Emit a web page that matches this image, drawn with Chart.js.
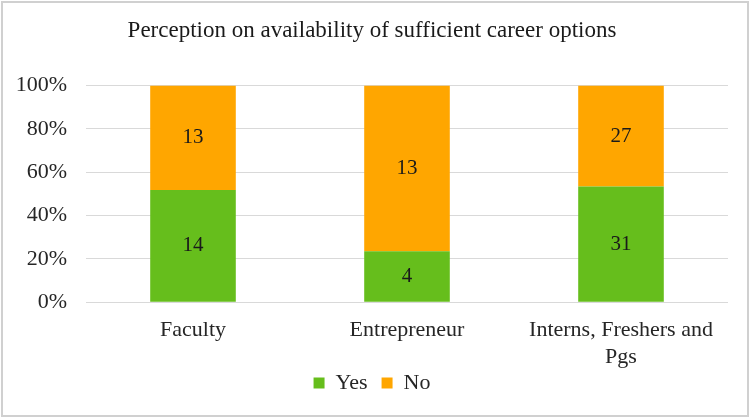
<!DOCTYPE html>
<html>
<head>
<meta charset="utf-8">
<script src="https://cdn.jsdelivr.net/npm/chart.js@4/dist/chart.umd.min.js"></script>
<style>
  html, body { margin: 0; padding: 0; background: #fff; }
  #wrap { width: 750px; height: 418px; position: relative; }
</style>
</head>
<body>
<div id="wrap"><canvas id="chart"></canvas></div>
<script>
const categories = ['Faculty', 'Entrepreneur', ['Interns, Freshers and', 'Pgs']];
const yesCounts = [14, 4, 31];
const noCounts = [13, 13, 27];
const tickLabels = ['0%', '20%', '40%', '60%', '80%', '100%'];

// share of each group, so the bars are 100% stacked
const yesPct = yesCounts.map((v, i) => v / (v + noCounts[i]) * 100);
const noPct = noCounts.map((v, i) => v / (yesCounts[i] + v) * 100);

const serif = '"Liberation Serif", "Times New Roman", serif';

const countLabels = {
    id: 'countLabels',
    afterDatasetsDraw(chart) {
        const ctx = chart.ctx;
        ctx.save();
        ctx.font = '21px ' + serif;
        ctx.fillStyle = '#1a1a1a';
        ctx.textAlign = 'center';
        ctx.textBaseline = 'middle';
        chart.data.datasets.forEach((ds, d) => {
            chart.getDatasetMeta(d).data.forEach((bar, i) => {
                ctx.fillText(String(ds.counts[i]), bar.x, (bar.y + bar.base) / 2);
            });
        });
        ctx.restore();
    }
};

const frame = {
    id: 'frame',
    beforeDraw(chart) {
        const ctx = chart.ctx;
        ctx.save();
        ctx.fillStyle = '#fff';
        ctx.fillRect(0, 0, chart.width, chart.height);
        ctx.strokeStyle = '#d0d0d0';
        ctx.lineWidth = 2;
        ctx.strokeRect(2, 2, chart.width - 4, chart.height - 4);
        ctx.restore();
    }
};

new Chart(document.getElementById('chart'), {
    type: 'bar',
    data: {
        labels: categories,
        datasets: [
            { label: 'Yes', data: yesPct, counts: yesCounts, backgroundColor: '#66BE1C' },
            { label: 'No', data: noPct, counts: noCounts, backgroundColor: '#FFA600' }
        ]
    },
    options: {
        responsive: true,
        maintainAspectRatio: false,
        animation: false,
        datasets: { bar: { categoryPercentage: 1, barPercentage: 0.4 } },
        layout: { padding: { top: 17, left: 16, right: 22, bottom: 14 } },
        scales: {
            x: {
                stacked: true,
                grid: { display: false },
                border: { display: false },
                afterFit: (s) => {
                    s.height -= 19;
                    // keep the wrapped second line from being clipped by the shorter axis box
                    s._computeLabelArea = () => undefined;
                },
                ticks: { color: '#262626', font: { family: serif, size: 22 }, padding: 7, maxRotation: 0 }
            },
            y: {
                stacked: true,
                min: 0,
                max: 100,
                border: { display: false },
                grid: { color: '#d9d9d9', drawTicks: false },
                afterFit: (s) => { s.width = 70; },
                ticks: {
                    stepSize: 20,
                    color: '#262626',
                    padding: 19,
                    font: { family: serif, size: 22 },
                    callback: (v) => tickLabels[v / 20]
                }
            }
        },
        plugins: {
            title: {
                display: true,
                text: 'Perception on availability of sufficient career options',
                color: '#1a1a1a',
                font: { family: serif, size: 23, weight: 'normal' },
                padding: { top: 0, bottom: 41 }
            },
            legend: {
                position: 'bottom',
                labels: {
                    color: '#262626',
                    font: { family: serif, size: 22 },
                    boxWidth: 11,
                    boxHeight: 11,
                    padding: 14
                }
            },
            tooltip: { enabled: false }
        }
    },
    plugins: [frame, countLabels]
});
</script>
</body>
</html>
